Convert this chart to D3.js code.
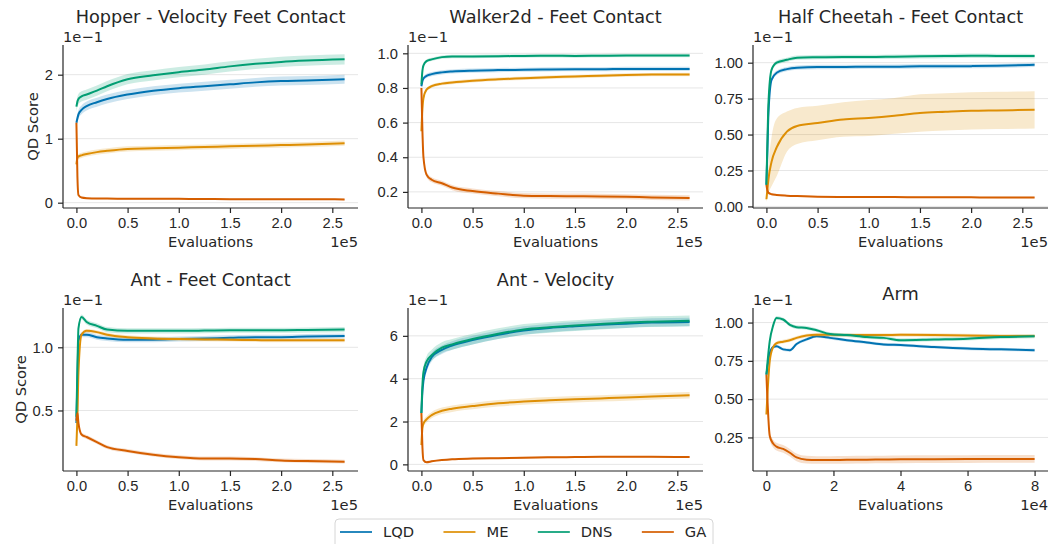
<!DOCTYPE html>
<html>
<head>
<meta charset="utf-8">
<script src="https://cdn.jsdelivr.net/npm/d3@7"></script>
<style>
  body { margin: 0; background: #fff; }
  svg { font-family: "DejaVu Sans", sans-serif; }
  .tick text { font-size: 14.7px; fill: #262626; }
  .domain, .tick line { stroke: #262626; stroke-width: 1.2px; }
  .lbl { font-size: 14.7px; fill: #262626; }
  .ttl { font-size: 17.7px; fill: #262626; }
</style>
</head>
<body>
<svg id="chart" width="1052" height="544"></svg>
<script>
// methods, in legend order
const methods = ["LQD", "ME", "DNS", "GA"];

// evaluations (1e5) shared by the brax tasks, and (1e4) for arm
const longEvals = [0, 0.01, 0.02, 0.05, 0.1, 0.2, 0.3, 0.5, 0.75, 1.0, 1.25, 1.5, 1.75, 2.0, 2.25, 2.62];
const armEvals = [0, 0.1, 0.2, 0.3, 0.5, 0.7, 0.9, 1.2, 1.5, 1.9, 2.4, 3.0, 3.5, 4.0, 5.0, 6.0, 7.0, 8.0];

// QD score means (1e-1) and spread
const hopperLQD = [1.25, 1.32, 1.38, 1.45, 1.51, 1.57, 1.62, 1.69, 1.75, 1.79, 1.82, 1.85, 1.88, 1.90, 1.91, 1.93];
const hopperME = [0.60, 0.70, 0.72, 0.74, 0.76, 0.79, 0.81, 0.84, 0.85, 0.86, 0.87, 0.88, 0.89, 0.90, 0.91, 0.93];
const hopperDNS = [1.50, 1.58, 1.62, 1.66, 1.69, 1.75, 1.82, 1.93, 1.99, 2.04, 2.08, 2.13, 2.17, 2.20, 2.22, 2.24];
const hopperGA = [1.25, 0.40, 0.12, 0.08, 0.07, 0.065, 0.065, 0.06, 0.06, 0.06, 0.058, 0.055, 0.055, 0.055, 0.055, 0.05];
const hopperSpread = [0.07, 0.04, 0.08, 0.01];

const walkerLQD = [0.81, 0.84, 0.855, 0.87, 0.88, 0.89, 0.895, 0.90, 0.903, 0.905, 0.907, 0.908, 0.908, 0.91, 0.91, 0.91];
const walkerME = [0.55, 0.68, 0.74, 0.79, 0.81, 0.825, 0.832, 0.842, 0.85, 0.856, 0.862, 0.866, 0.871, 0.875, 0.877, 0.878];
const walkerDNS = [0.82, 0.90, 0.93, 0.955, 0.965, 0.978, 0.982, 0.982, 0.983, 0.985, 0.986, 0.985, 0.986, 0.987, 0.987, 0.988];
const walkerGA = [0.80, 0.55, 0.40, 0.30, 0.27, 0.25, 0.225, 0.205, 0.19, 0.178, 0.176, 0.175, 0.174, 0.172, 0.168, 0.165];
const walkerSpread = [0.012, 0.01, 0.01, 0.015];

const cheetahLQD = [0.15, 0.40, 0.65, 0.88, 0.93, 0.955, 0.965, 0.97, 0.97, 0.972, 0.972, 0.975, 0.975, 0.976, 0.978, 0.985];
const cheetahME = [0.05, 0.12, 0.19, 0.31, 0.41, 0.52, 0.56, 0.58, 0.605, 0.615, 0.63, 0.65, 0.658, 0.665, 0.668, 0.672];
const cheetahDNS = [0.15, 0.45, 0.72, 0.95, 1.00, 1.02, 1.035, 1.038, 1.04, 1.04, 1.042, 1.044, 1.046, 1.048, 1.047, 1.046];
const cheetahGA = [0.15, 0.11, 0.095, 0.085, 0.08, 0.075, 0.072, 0.068, 0.066, 0.065, 0.065, 0.064, 0.064, 0.063, 0.062, 0.062];
const cheetahMESpread = [0.02, 0.06, 0.1, 0.17, 0.2, 0.14, 0.125, 0.12, 0.12, 0.125, 0.125, 0.13, 0.13, 0.13, 0.13, 0.13];
const cheetahSpread = [0.015, cheetahMESpread, 0.015, 0.005];

const antFeetLQD = [0.40, 0.75, 1.05, 1.10, 1.10, 1.08, 1.07, 1.06, 1.06, 1.065, 1.07, 1.075, 1.08, 1.08, 1.085, 1.09];
const antFeetME = [0.22, 0.45, 0.80, 1.10, 1.13, 1.12, 1.10, 1.08, 1.07, 1.065, 1.062, 1.06, 1.057, 1.055, 1.055, 1.055];
const antFeetDNS = [0.45, 0.85, 1.15, 1.24, 1.20, 1.17, 1.14, 1.13, 1.13, 1.13, 1.132, 1.135, 1.135, 1.135, 1.137, 1.14];
const antFeetGA = [0.42, 0.48, 0.40, 0.31, 0.29, 0.25, 0.21, 0.18, 0.15, 0.13, 0.12, 0.12, 0.115, 0.105, 0.10, 0.095];
const antFeetSpread = [0.02, 0.015, 0.02, 0.015];

const antVelLQD = [2.4, 3.4, 3.9, 4.5, 5.0, 5.35, 5.55, 5.8, 6.05, 6.25, 6.37, 6.45, 6.52, 6.57, 6.62, 6.65];
const antVelME = [0.9, 1.7, 1.9, 2.1, 2.3, 2.5, 2.6, 2.72, 2.85, 2.93, 2.99, 3.04, 3.08, 3.12, 3.17, 3.23];
const antVelDNS = [2.4, 3.7, 4.3, 4.8, 5.1, 5.45, 5.6, 5.85, 6.1, 6.3, 6.4, 6.48, 6.55, 6.62, 6.66, 6.70];
const antVelGA = [2.4, 0.8, 0.2, 0.1, 0.14, 0.2, 0.24, 0.27, 0.29, 0.31, 0.33, 0.34, 0.35, 0.35, 0.35, 0.34];
const antVelSpread = [0.2, 0.15, 0.25, 0.04];

const armLQD = [0.66, 0.80, 0.84, 0.845, 0.825, 0.82, 0.86, 0.89, 0.91, 0.90, 0.885, 0.87, 0.857, 0.853, 0.84, 0.83, 0.825, 0.82];
const armME = [0.40, 0.75, 0.84, 0.865, 0.875, 0.885, 0.90, 0.915, 0.92, 0.92, 0.918, 0.918, 0.918, 0.92, 0.918, 0.915, 0.913, 0.913];
const armDNS = [0.66, 0.88, 0.98, 1.03, 1.02, 0.985, 0.97, 0.965, 0.95, 0.925, 0.918, 0.905, 0.90, 0.885, 0.89, 0.895, 0.905, 0.91];
const armGA = [0.66, 0.26, 0.21, 0.19, 0.175, 0.15, 0.12, 0.105, 0.103, 0.103, 0.104, 0.105, 0.106, 0.107, 0.108, 0.109, 0.11, 0.11];
const armSpread = [0.01, 0.012, 0.012, 0.025];

// tick values
const longXTicks = [0, 0.5, 1.0, 1.5, 2.0, 2.5];
const armXTicks = [0, 2, 4, 6, 8];

const colors = ["#0173b2", "#de8f05", "#029e73", "#d55e00"];

const panels = [
  { title: "Hopper - Velocity Feet Contact", evals: longEvals, series: [hopperLQD, hopperME, hopperDNS, hopperGA], spread: hopperSpread,
    yDomain: [-0.083, 2.464], yTicks: [0, 1, 2], yFmt: d3.format("d"), xTicks: longXTicks, xFmt: d3.format(".1f"), xDomain: [-0.131, 2.751], xExp: "1e5" },
  { title: "Walker2d - Feet Contact", evals: longEvals, series: [walkerLQD, walkerME, walkerDNS, walkerGA], spread: walkerSpread,
    yDomain: [0.107, 1.048], yTicks: [0.2, 0.4, 0.6, 0.8, 1.0], yFmt: d3.format(".1f"), xTicks: longXTicks, xFmt: d3.format(".1f"), xDomain: [-0.131, 2.751], xExp: "1e5" },
  { title: "Half Cheetah - Feet Contact", evals: longEvals, series: [cheetahLQD, cheetahME, cheetahDNS, cheetahGA], spread: cheetahSpread,
    yDomain: [-0.011, 1.123], yTicks: [0, 0.25, 0.5, 0.75, 1.0], yFmt: d3.format(".2f"), xTicks: longXTicks, xFmt: d3.format(".1f"), xDomain: [-0.131, 2.751], xExp: "1e5" },
  { title: "Ant - Feet Contact", evals: longEvals, series: [antFeetLQD, antFeetME, antFeetDNS, antFeetGA], spread: antFeetSpread,
    yDomain: [0.021, 1.311], yTicks: [0.5, 1.0], yFmt: d3.format(".1f"), xTicks: longXTicks, xFmt: d3.format(".1f"), xDomain: [-0.131, 2.751], xExp: "1e5" },
  { title: "Ant - Velocity", evals: longEvals, series: [antVelLQD, antVelME, antVelDNS, antVelGA], spread: antVelSpread,
    yDomain: [-0.31, 7.3], yTicks: [0, 2, 4, 6], yFmt: d3.format("d"), xTicks: longXTicks, xFmt: d3.format(".1f"), xDomain: [-0.131, 2.751], xExp: "1e5" },
  { title: "Arm", evals: armEvals, series: [armLQD, armME, armDNS, armGA], spread: armSpread, lowTitle: true,
    yDomain: [0.031, 1.095], yTicks: [0.25, 0.5, 0.75, 1.0], yFmt: d3.format(".2f"), xTicks: armXTicks, xFmt: d3.format("d"), xDomain: [-0.4, 8.4], xExp: "1e4" }
];

// layout
const colLeft = [63, 408, 753];
const rowTop = [45, 308];
const pw = 295, ph = 163;

const svg = d3.select("#chart");

panels.forEach((p, k) => {
  const left = colLeft[k % 3];
  const top = rowTop[Math.floor(k / 3)];
  const g = svg.append("g").attr("transform", "translate(" + left + "," + top + ")");

  const x = d3.scaleLinear().domain(p.xDomain).range([0, pw]);
  const y = d3.scaleLinear().domain(p.yDomain).range([ph, 0]);

  // grid
  g.append("g").selectAll("line").data(p.yTicks).join("line")
    .attr("x1", 0).attr("x2", pw)
    .attr("y1", d => y(d)).attr("y2", d => y(d))
    .attr("stroke", "#e6e6e6").attr("stroke-width", 1);

  // bands then lines, per method
  p.series.forEach((vals, i) => {
    const s = p.spread[i];
    const sd = j => Array.isArray(s) ? s[j] : s;
    const pts = p.evals.map((e, j) => ({ e: e, m: vals[j], sd: sd(j) }));
    const area = d3.area().curve(d3.curveMonotoneX)
      .x(d => x(d.e)).y0(d => y(d.m - d.sd)).y1(d => y(d.m + d.sd));
    const line = d3.line().curve(d3.curveMonotoneX)
      .x(d => x(d.e)).y(d => y(d.m));
    g.append("path").datum(pts).attr("d", area)
      .attr("fill", colors[i]).attr("fill-opacity", 0.2);
    g.append("path").datum(pts).attr("d", line)
      .attr("fill", "none").attr("stroke", colors[i]).attr("stroke-width", 2);
  });

  // axes
  const xAxis = g.append("g").attr("transform", "translate(0," + ph + ")")
    .call(d3.axisBottom(x).tickValues(p.xTicks).tickFormat(p.xFmt).tickSize(5).tickPadding(5).tickSizeOuter(0));
  const yAxis = g.append("g")
    .call(d3.axisLeft(y).tickValues(p.yTicks).tickFormat(p.yFmt).tickSize(5).tickPadding(5).tickSizeOuter(0));
  xAxis.select(".domain").attr("d", "M0,0H" + pw);
  yAxis.select(".domain").attr("d", "M0,0V" + ph);

  // offset texts
  g.append("text").attr("class", "lbl").attr("x", 0).attr("y", -3).text("1e\u22121");
  g.append("text").attr("class", "lbl").attr("x", pw).attr("y", ph + 39)
    .attr("text-anchor", "end").text(p.xExp);

  g.append("text").attr("class", "lbl").attr("x", pw / 2).attr("y", ph + 39)
    .attr("text-anchor", "middle").text("Evaluations");

  g.append("text").attr("class", "ttl").attr("x", pw / 2).attr("y", p.lowTitle ? -8 : -22.5)
    .attr("text-anchor", "middle").text(p.title);

  if (k % 3 === 0) {
    const box = yAxis.node().getBBox();
    g.append("text").attr("class", "lbl")
      .attr("transform", "translate(" + (box.x - 7) + "," + (ph / 2) + ") rotate(-90)")
      .attr("text-anchor", "middle").text("QD Score");
  }
});

// legend
const legend = svg.append("g");
legend.append("rect").attr("x", 335).attr("y", 519).attr("width", 378).attr("height", 40)
  .attr("rx", 4).attr("fill", "#fff").attr("stroke", "#d6d6d6").attr("stroke-width", 1);
let lx = 340;
methods.forEach((m, i) => {
  legend.append("line").attr("x1", lx).attr("x2", lx + 32).attr("y1", 532).attr("y2", 532)
    .attr("stroke", colors[i]).attr("stroke-width", 2).attr("stroke-opacity", 0.85);
  const t = legend.append("text").attr("class", "lbl").attr("x", lx + 43).attr("y", 537).text(m);
  lx += 43 + t.node().getComputedTextLength() + 29.4;
});
</script>
</body>
</html>
